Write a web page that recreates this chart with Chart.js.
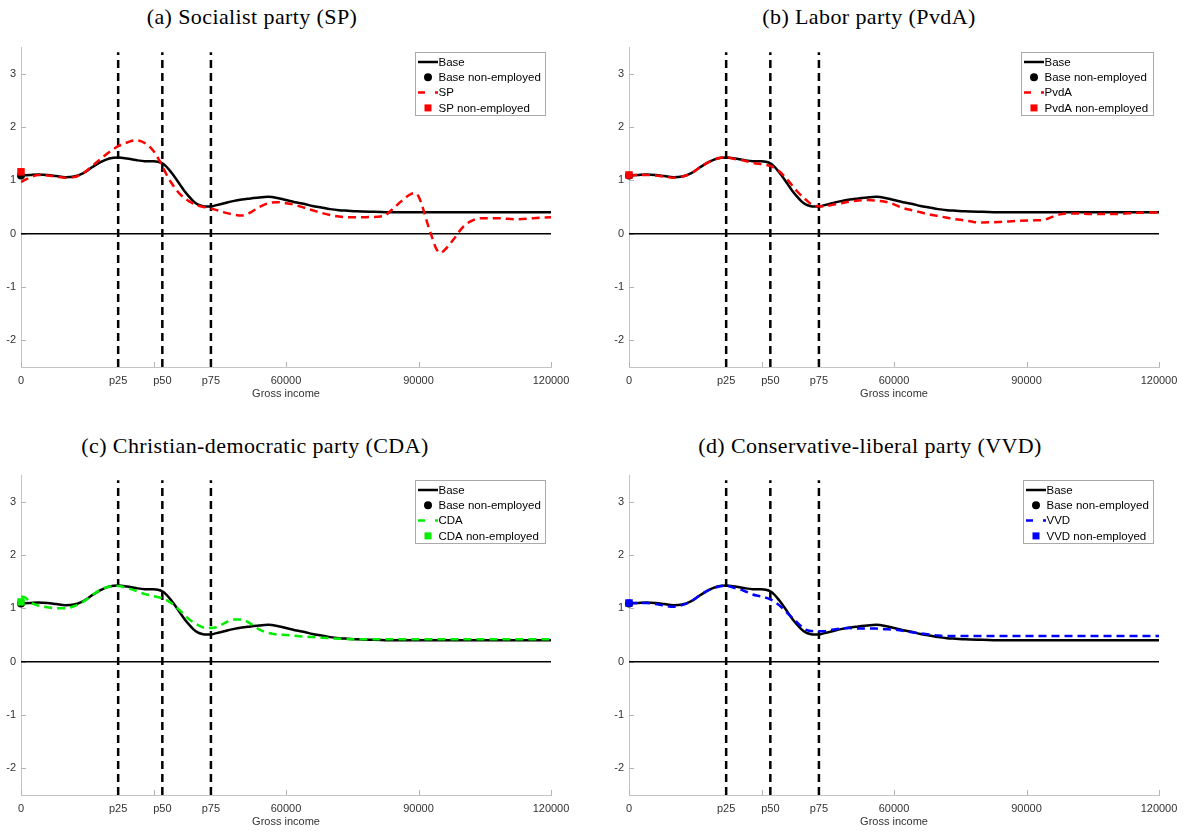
<!DOCTYPE html>
<html lang="en">
<head>
<meta charset="UTF-8">
<title>Gross income by party</title>
<script src="https://cdn.jsdelivr.net/npm/chart.js"></script>
<style>
body { margin: 0; background: #fff; width: 1185px; height: 834px; position: relative; overflow: hidden; }
canvas { position: absolute; }
.ttl {
    position: absolute; width: 500px; text-align: center;
    font-family: "Liberation Serif", "DejaVu Serif", serif; font-size: 22px; color: #000;
    letter-spacing: 0.4px; line-height: 24px;
}
</style>
</head>
<body>
<div class="ttl" style="left:2px; top:5px;">(a) Socialist party (SP)</div>
<div class="ttl" style="left:619px; top:5px;">(b) Labor party (PvdA)</div>
<div class="ttl" style="left:5px; top:434px;">(c) Christian-democratic party (CDA)</div>
<div class="ttl" style="left:620px; top:434px;">(d) Conservative-liberal party (VVD)</div>

<canvas id="cSP" width="577" height="406" style="left:0; top:0;"></canvas>
<canvas id="cPvdA" width="577" height="406" style="left:608px; top:0;"></canvas>
<canvas id="cCDA" width="577" height="406" style="left:0; top:428px;"></canvas>
<canvas id="cVVD" width="577" height="406" style="left:608px; top:428px;"></canvas>

<script>
// x in thousands of euros
const baseX = [0,2,4,6,8,10,12,14,16,18,20,22,24,26,28,30,31,32,33,34,35,36,37,38,39,40,41,42,43,44,46,48,50,52,54,56,58,60,62,64,66,68,70,72,74,76,80,85,90,100,110,120];
const baseY = [1.09,1.10,1.11,1.10,1.08,1.06,1.07,1.13,1.24,1.34,1.41,1.43,1.41,1.38,1.36,1.36,1.35,1.32,1.25,1.15,1.04,0.92,0.80,0.70,0.61,0.55,0.52,0.51,0.51,0.53,0.57,0.61,0.64,0.66,0.68,0.69,0.67,0.63,0.59,0.56,0.52,0.49,0.46,0.44,0.43,0.42,0.41,0.40,0.40,0.40,0.40,0.40];

const spX = [0,2,4,6,8,10,12,14,16,18,20,22,24,26,28,30,31,32,33,34,35,36,38,40,42,44,46,48,50,52,54,56,58,60,62,64,66,68,70,72,74,78,82,84,86,88,89,90,91,92,93,94,95,96,98,100,102,104,108,112,116,120];
const spY = [0.97,1.05,1.10,1.09,1.07,1.05,1.06,1.13,1.26,1.40,1.53,1.64,1.71,1.75,1.70,1.55,1.42,1.27,1.10,0.96,0.84,0.74,0.61,0.53,0.49,0.45,0.40,0.36,0.34,0.40,0.50,0.57,0.59,0.57,0.54,0.49,0.44,0.39,0.35,0.32,0.31,0.31,0.33,0.45,0.60,0.73,0.76,0.70,0.48,0.20,-0.05,-0.28,-0.36,-0.30,-0.10,0.12,0.24,0.29,0.29,0.27,0.29,0.31];

const pvdaX = [0,2,4,6,8,10,12,14,16,18,20,22,24,26,28,30,32,34,36,38,40,42,44,46,48,50,52,54,56,58,60,62,64,66,68,70,72,74,76,78,80,84,88,92,94,96,98,100,105,110,115,120];
const pvdaY = [1.09,1.10,1.10,1.09,1.07,1.05,1.07,1.13,1.24,1.34,1.41,1.43,1.40,1.37,1.33,1.30,1.27,1.17,1.00,0.80,0.64,0.52,0.51,0.54,0.57,0.60,0.62,0.63,0.62,0.60,0.55,0.48,0.44,0.40,0.36,0.33,0.30,0.27,0.25,0.22,0.21,0.22,0.24,0.25,0.26,0.32,0.37,0.38,0.37,0.37,0.39,0.40];

const cdaX = [0,1,2,4,6,8,10,12,14,16,18,20,22,24,26,28,30,32,34,36,38,40,42,44,46,48,50,52,54,56,58,60,64,68,72,76,80,90,100,110,120];
const cdaY = [1.22,1.20,1.12,1.05,1.02,1.00,1.00,1.04,1.12,1.24,1.35,1.41,1.42,1.38,1.33,1.27,1.23,1.19,1.10,0.96,0.80,0.69,0.63,0.64,0.72,0.79,0.79,0.71,0.60,0.54,0.51,0.50,0.47,0.45,0.43,0.42,0.42,0.42,0.42,0.42,0.42];

const vvdX = [0,2,4,6,8,10,12,14,16,18,20,22,24,26,28,30,32,34,36,38,40,42,44,46,48,50,52,54,56,58,60,62,64,66,68,70,72,76,80,90,100,110,120];
const vvdY = [1.10,1.10,1.10,1.08,1.05,1.03,1.06,1.13,1.24,1.34,1.40,1.42,1.38,1.33,1.26,1.22,1.17,1.06,0.90,0.74,0.60,0.57,0.57,0.60,0.62,0.63,0.62,0.62,0.62,0.61,0.60,0.58,0.55,0.53,0.51,0.49,0.48,0.48,0.48,0.48,0.48,0.48,0.48];

// values for the non-employed (plotted at income 0)
const baseNonEmp = 1.09;
const nonEmp = { SP: 1.16, PvdA: 1.10, CDA: 1.12, VVD: 1.10 };

// percentile lines (p25, p50, p75) in euros
const pctValues = [22000, 32000, 43000];
const xTickValues = [0, 22000, 30000, 32000, 43000, 60000, 90000, 120000];
const xTickLabels = ['0', 'p25', '', 'p50', 'p75', '60000', '90000', '120000'];
const yTickValues = [-2, -1, 0, 1, 2, 3];

function pts(xs, ys){
    return xs.map((x,i)=>({x: x*1000, y: ys[i]}));
}

const innerTicks = {
    id: 'innerTicks',
    beforeDatasetsDraw(chart){
        const {ctx, chartArea: a, scales: {x, y}} = chart;
        ctx.save();
        ctx.strokeStyle = '#b4b4b4';
        ctx.lineWidth = 1;
        ctx.beginPath();
        yTickValues.forEach(v=>{
            const py = Math.round(y.getPixelForValue(v)) + 0.5;
            ctx.moveTo(a.left, py); ctx.lineTo(a.left + 5, py);
        });
        xTickValues.forEach(v=>{
            const px = Math.round(x.getPixelForValue(v)) + 0.5;
            ctx.moveTo(px, a.bottom); ctx.lineTo(px, a.bottom - 5);
        });
        ctx.stroke();
        ctx.restore();
    }
};

const boxLegend = {
    id: 'boxLegend',
    afterDatasetsDraw(chart){
        const items = chart.data.datasets.filter(d => d.legendKind);
        const ctx = chart.ctx, a = chart.chartArea;
        ctx.save();
        ctx.font = '11.5px "Liberation Sans", Arial, sans-serif';
        let tw = 0;
        items.forEach(d => { tw = Math.max(tw, ctx.measureText(d.label).width); });
        const w = Math.round(24 + tw + 4), h = 63;
        const x0 = Math.round(a.right - 6 - w), y0 = Math.round(a.top + 5);
        ctx.fillStyle = '#fff';
        ctx.fillRect(x0, y0, w, h);
        ctx.strokeStyle = '#aaaaaa';
        ctx.lineWidth = 1;
        ctx.strokeRect(x0 + 0.5, y0 + 0.5, w, h);
        items.forEach((d, i) => {
            const cy = y0 + 10 + i * 15.3;
            const col = d.legendColor;
            ctx.strokeStyle = col; ctx.fillStyle = col;
            if (d.legendKind === 'line' || d.legendKind === 'dash'){
                ctx.lineWidth = 2.5;
                ctx.setLineDash(d.legendKind === 'dash' ? [7, 10] : []);
                ctx.beginPath(); ctx.moveTo(x0 + 3, cy); ctx.lineTo(x0 + 23, cy); ctx.stroke();
                ctx.setLineDash([]);
            } else if (d.legendKind === 'circle'){
                ctx.beginPath(); ctx.arc(x0 + 13, cy, 4, 0, Math.PI * 2); ctx.fill();
            } else {
                ctx.fillRect(x0 + 9.5, cy - 3.5, 7, 7);
            }
            ctx.fillStyle = '#000';
            ctx.textBaseline = 'middle';
            ctx.textAlign = 'left';
            ctx.fillText(d.label, x0 + 23.5, cy + 0.5);
        });
        ctx.restore();
    }
};

function makeChart(id, party, px, py, color){
    const datasets = [
        {label: 'Base', data: pts(baseX, baseY), borderColor: '#000', borderWidth: 2.5,
         pointRadius: 0, cubicInterpolationMode: 'monotone', order: 5,
         legendKind: 'line', legendColor: '#000'},
        {label: 'Base non-employed', data: [{x: 0, y: baseNonEmp}], showLine: false,
         pointStyle: 'circle', pointRadius: 4, backgroundColor: '#000', borderColor: '#000',
         borderWidth: 0, clip: false, order: 3, legendKind: 'circle', legendColor: '#000'},
        {label: party, data: pts(px, py), borderColor: color, borderWidth: 2.5, borderDash: [8, 5],
         pointRadius: 0, cubicInterpolationMode: 'monotone', order: 4,
         legendKind: 'dash', legendColor: color},
        {label: party + ' non-employed', data: [{x: 0, y: nonEmp[party]}], showLine: false,
         pointStyle: 'rect', pointRadius: 5.3, backgroundColor: color, borderColor: color,
         borderWidth: 0, clip: false, order: 2, legendKind: 'rect', legendColor: color},
        {label: 'zero', data: [{x: 0, y: 0}, {x: 120000, y: 0}], borderColor: '#000',
         borderWidth: 1.5, pointRadius: 0, order: 9}
    ];
    pctValues.forEach(v => {
        datasets.push({label: 'pct', data: [{x: v, y: -2.5}, {x: v, y: 3.4}], borderColor: '#000',
            borderWidth: 2.5, borderDash: [8, 5], pointRadius: 0, order: 10});
    });

    return new Chart(document.getElementById(id), {
        type: 'line',
        data: {datasets},
        options: {
            responsive: false,
            animation: false,
            layout: {padding: {left: 0, right: 26, top: 47, bottom: 3}},
            plugins: {legend: {display: false}, tooltip: {enabled: false}},
            scales: {
                x: {
                    type: 'linear', min: 0, max: 120000,
                    afterFit: s => { s.height = 36; },
                    afterBuildTicks: s => { s.ticks = xTickValues.map(v => ({value: v})); },
                    grid: {display: true, drawOnChartArea: false, drawTicks: false},
                    border: {display: true, color: '#c4c4c4', width: 1},
                    ticks: {
                        autoSkip: false, maxRotation: 0, padding: 7, color: '#333',
                        font: {family: '"Liberation Sans", Arial, sans-serif', size: 11},
                        callback: v => { const i = xTickValues.indexOf(v); return i >= 0 ? xTickLabels[i] : ''; }
                    },
                    title: {display: true, text: 'Gross income', color: '#333',
                        font: {family: '"Liberation Sans", Arial, sans-serif', size: 11},
                        padding: {top: 0, bottom: 2}}
                },
                y: {
                    min: -2.5, max: 3.5,
                    afterFit: s => { s.width = 21; },
                    afterBuildTicks: s => { s.ticks = yTickValues.map(v => ({value: v})); },
                    grid: {display: true, drawOnChartArea: false, drawTicks: false},
                    border: {display: true, color: '#c4c4c4', width: 1},
                    ticks: {
                        padding: 5, color: '#333',
                        font: {family: '"Liberation Sans", Arial, sans-serif', size: 11},
                        callback: v => String(v)
                    }
                }
            }
        },
        plugins: [innerTicks, boxLegend]
    });
}

makeChart('cSP', 'SP', spX, spY, '#ff0000');
makeChart('cPvdA', 'PvdA', pvdaX, pvdaY, '#ff0000');
makeChart('cCDA', 'CDA', cdaX, cdaY, '#00ee00');
makeChart('cVVD', 'VVD', vvdX, vvdY, '#0000ff');
</script>
</body>
</html>
